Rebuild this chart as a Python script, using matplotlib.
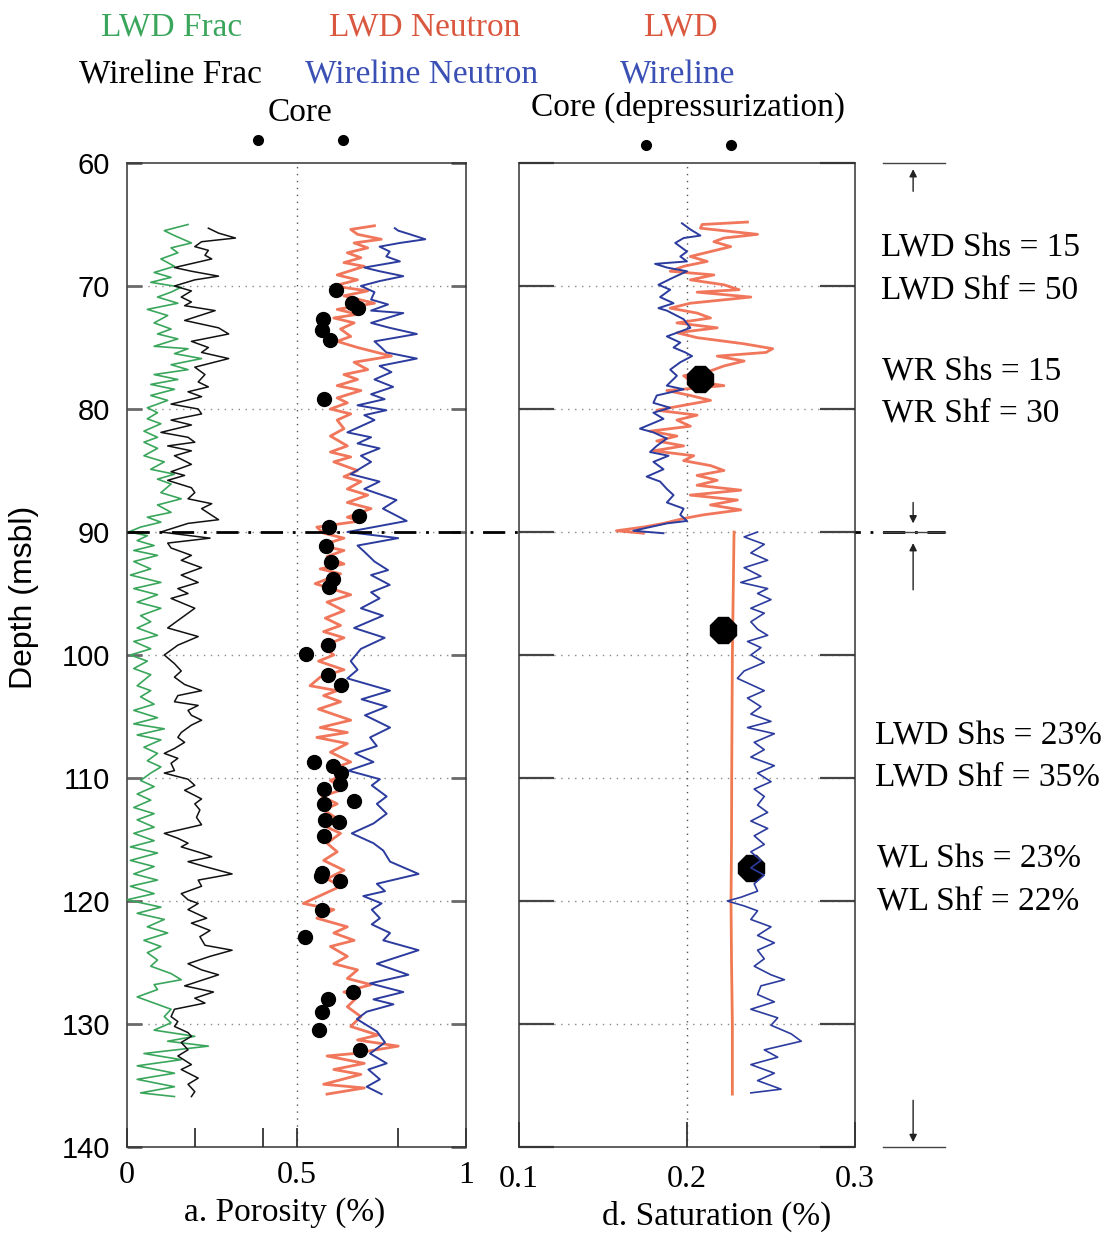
import matplotlib
matplotlib.use("Agg")
import matplotlib.pyplot as plt
import matplotlib.transforms as mtransforms
from matplotlib.lines import Line2D

SERIF = "Liberation Serif"
SANS = "Liberation Sans"

# ---------------- DATA ----------------
# a. Porosity panel
lwd_frac_depth = [65.0, 65.5, 65.9, 66.5, 66.9, 67.3, 67.8, 68.4, 68.9, 69.3, 69.7, 70.1, 70.5, 70.9, 71.4, 71.9, 72.4, 73.0, 73.5, 73.9,
                  74.3, 74.9, 75.1, 75.5, 75.9, 76.4, 76.8, 77.2, 77.6, 78.0, 78.4, 78.9, 79.3, 79.9, 80.3, 80.8, 81.2, 81.8, 82.3, 82.7,
                  83.2, 83.8, 84.3, 84.9, 85.3, 85.7, 86.1, 86.8, 87.3, 87.8, 88.4, 88.8, 89.2, 89.6, 90.0, 90.3, 90.7, 91.1, 91.5, 91.9,
                  92.4, 93.0, 93.5, 94.1, 94.6, 95.1, 95.7, 96.2, 96.8, 97.3, 97.8, 98.4, 98.9, 99.5, 100.0, 100.5, 101.1, 101.6, 102.5, 102.9,
                  103.4, 104.0, 104.5, 105.1, 105.6, 106.0, 106.5, 106.9, 107.5, 108.0, 108.6, 109.1, 109.6, 110.2, 110.7, 111.3, 111.8, 112.4, 112.9, 113.4,
                  114.0, 114.5, 115.1, 115.6, 116.1, 116.7, 117.2, 117.8, 118.3, 118.8, 119.4, 119.9, 120.5, 121.0, 121.5, 122.1, 122.6, 123.2, 123.7, 124.2,
                  124.8, 125.3, 125.9, 126.4, 126.8, 127.2, 127.8, 128.3, 128.8, 129.4, 129.9, 130.5, 131.0, 131.4, 131.8, 132.4, 132.9, 133.4, 134.0, 134.5,
                  135.1, 135.6, 135.9]
lwd_frac = [0.18, 0.11, 0.14, 0.19, 0.13, 0.15, 0.10, 0.14, 0.08, 0.13, 0.07, 0.16, 0.13, 0.09, 0.15, 0.06, 0.12, 0.08, 0.13, 0.09,
            0.15, 0.08, 0.18, 0.14, 0.22, 0.13, 0.18, 0.08, 0.15, 0.07, 0.14, 0.07, 0.12, 0.06, 0.09, 0.06, 0.10, 0.05, 0.09, 0.05,
            0.09, 0.05, 0.11, 0.07, 0.14, 0.09, 0.13, 0.10, 0.16, 0.09, 0.13, 0.06, 0.10, 0.04, 0.005, 0.06, 0.03, 0.08, 0.02, 0.09,
            0.02, 0.07, 0.01, 0.10, 0.02, 0.09, 0.03, 0.10, 0.04, 0.07, 0.03, 0.09, 0.02, 0.07, 0.01, 0.06, 0.02, 0.07, 0.03, 0.07,
            0.04, 0.08, 0.02, 0.09, 0.02, 0.11, 0.03, 0.10, 0.05, 0.09, 0.06, 0.10, 0.07, 0.04, 0.08, 0.03, 0.07, 0.02, 0.08, 0.03,
            0.08, 0.02, 0.08, 0.01, 0.09, 0.01, 0.08, 0.02, 0.09, 0.01, 0.08, 0.00, 0.10, 0.03, 0.11, 0.06, 0.12, 0.05, 0.10, 0.06,
            0.09, 0.07, 0.13, 0.16, 0.08, 0.09, 0.03, 0.08, 0.13, 0.11, 0.13, 0.08, 0.20, 0.12, 0.24, 0.05, 0.16, 0.03, 0.14, 0.03,
            0.14, 0.04, 0.14]

wl_frac_depth = [65.3, 65.7, 66.1, 66.4, 66.8, 67.1, 67.5, 67.8, 68.5, 68.8, 69.2, 69.5, 70.0, 70.4, 70.9, 71.3, 71.6, 72.0, 72.8, 73.4,
                 73.9, 74.5, 75.0, 75.4, 75.9, 76.6, 77.2, 77.8, 78.2, 78.6, 79.0, 79.6, 80.0, 80.4, 80.9, 81.3, 81.9, 82.3, 82.7, 83.0,
                 83.4, 83.8, 84.5, 85.1, 85.4, 85.8, 86.4, 86.8, 87.3, 87.7, 88.1, 89.0, 89.3, 90.0, 90.5, 90.9, 91.3, 91.9, 92.3, 92.9,
                 93.5, 94.1, 94.6, 95.0, 95.4, 96.2, 96.8, 97.8, 98.5, 99.2, 100.0, 100.7, 101.3, 101.8, 102.4, 102.9, 103.3, 103.8, 104.1, 104.5,
                 104.9, 105.3, 105.7, 106.3, 106.7, 107.1, 107.6, 108.0, 108.4, 108.8, 109.4, 109.6, 110.1, 110.6, 111.0, 111.7, 112.1, 112.6, 113.2, 113.8,
                 114.5, 114.9, 115.3, 115.6, 116.1, 116.4, 116.8, 117.2, 117.8, 118.3, 118.8, 119.4, 119.9, 120.2, 120.7, 121.4, 121.8, 122.4, 122.9, 123.6,
                 124.0, 124.5, 125.1, 125.6, 126.0, 126.5, 126.9, 127.4, 127.9, 128.3, 128.8, 129.4, 129.8, 130.2, 130.7, 131.0, 131.5, 132.1, 132.6, 133.3,
                 133.7, 134.4, 134.9, 135.5, 135.9]
wl_frac = [0.24, 0.27, 0.32, 0.22, 0.20, 0.24, 0.23, 0.25, 0.14, 0.19, 0.27, 0.20, 0.14, 0.19, 0.16, 0.19, 0.17, 0.26, 0.17, 0.27,
           0.30, 0.19, 0.24, 0.22, 0.30, 0.20, 0.23, 0.21, 0.24, 0.18, 0.22, 0.13, 0.21, 0.22, 0.13, 0.19, 0.10, 0.18, 0.20, 0.12,
           0.19, 0.14, 0.19, 0.13, 0.17, 0.12, 0.19, 0.20, 0.18, 0.25, 0.22, 0.27, 0.18, 0.10, 0.245, 0.12, 0.13, 0.19, 0.16, 0.22,
           0.16, 0.21, 0.15, 0.18, 0.13, 0.20, 0.17, 0.12, 0.21, 0.15, 0.11, 0.14, 0.16, 0.14, 0.17, 0.22, 0.15, 0.14, 0.21, 0.18,
           0.19, 0.22, 0.19, 0.16, 0.15, 0.17, 0.14, 0.11, 0.15, 0.13, 0.14, 0.11, 0.18, 0.20, 0.17, 0.22, 0.20, 0.215, 0.205, 0.22,
           0.11, 0.15, 0.18, 0.16, 0.22, 0.25, 0.18, 0.23, 0.31, 0.21, 0.22, 0.16, 0.18, 0.21, 0.18, 0.235, 0.19, 0.245, 0.215, 0.23,
           0.31, 0.245, 0.18, 0.22, 0.27, 0.215, 0.17, 0.255, 0.20, 0.23, 0.14, 0.13, 0.15, 0.14, 0.18, 0.19, 0.16, 0.18, 0.15, 0.19,
           0.16, 0.21, 0.18, 0.20, 0.19]

lwd_neutron_depth = [65.1, 65.4, 65.8, 66.2, 66.5, 66.9, 67.3, 67.7, 68.1, 68.4, 69.1, 69.5, 70.0, 70.4, 70.8, 71.4, 71.9, 72.3, 72.6, 73.0,
                     73.5, 74.1, 74.5, 75.0, 75.7, 76.2, 76.8, 77.2, 77.6, 78.1, 78.5, 79.1, 79.5, 80.0, 80.4, 80.9, 81.6, 82.2, 83.0, 83.5,
                     83.9, 84.3, 85.0, 85.5, 85.9, 86.5, 87.0, 87.6, 88.1, 88.8, 89.1, 89.6, 90.1, 90.5, 91.1, 91.5, 92.0, 92.6, 93.0, 93.4,
                     94.2, 95.1, 95.7, 96.4, 97.0, 97.6, 98.1, 98.6, 99.3, 100.0, 100.5, 101.2, 101.8, 102.5, 102.9, 103.3, 103.8, 104.4, 105.3, 105.9,
                     106.3, 106.7, 107.2, 107.9, 108.7, 109.2, 109.6, 110.2, 110.9, 111.5, 112.1, 112.6, 113.3, 114.0, 114.5, 115.3, 116.0, 116.7, 117.5, 118.2,
                     118.8, 120.2, 120.7, 121.4, 122.1, 122.6, 123.2, 123.7, 124.5, 125.1, 125.6, 126.3, 126.8, 127.4, 127.8, 128.6, 129.4, 130.2, 130.9, 131.3,
                     131.8, 132.4, 132.6, 133.2, 133.7, 134.1, 134.9, 135.2, 135.7]
lwd_neutron = [0.73, 0.66, 0.68, 0.75, 0.67, 0.71, 0.65, 0.69, 0.64, 0.70, 0.62, 0.68, 0.61, 0.71, 0.64, 0.73, 0.62, 0.68, 0.61, 0.67,
               0.63, 0.66, 0.62, 0.68, 0.78, 0.67, 0.71, 0.64, 0.68, 0.62, 0.69, 0.62, 0.65, 0.60, 0.66, 0.62, 0.64, 0.60, 0.65, 0.60,
               0.66, 0.61, 0.68, 0.64, 0.69, 0.65, 0.71, 0.65, 0.72, 0.65, 0.69, 0.56, 0.58, 0.64, 0.57, 0.64, 0.59, 0.64, 0.57, 0.63,
               0.555, 0.66, 0.59, 0.64, 0.585, 0.63, 0.58, 0.64, 0.575, 0.61, 0.565, 0.64, 0.57, 0.54, 0.62, 0.58, 0.63, 0.565, 0.66, 0.57,
               0.65, 0.56, 0.65, 0.60, 0.66, 0.61, 0.65, 0.60, 0.64, 0.575, 0.62, 0.58, 0.62, 0.59, 0.63, 0.59, 0.62, 0.58, 0.64, 0.59,
               0.63, 0.52, 0.61, 0.56, 0.65, 0.61, 0.67, 0.60, 0.65, 0.61, 0.68, 0.65, 0.72, 0.64, 0.68, 0.65, 0.69, 0.66, 0.74, 0.68,
               0.80, 0.67, 0.59, 0.70, 0.61, 0.69, 0.58, 0.70, 0.59]

wl_neutron_depth = [65.3, 65.5, 65.8, 66.2, 66.5, 66.8, 67.2, 67.6, 68.0, 68.5, 68.8, 69.2, 69.6, 70.0, 70.5, 71.1, 71.5, 72.0, 72.2, 73.0,
                    73.4, 73.9, 74.5, 75.0, 75.4, 75.9, 76.5, 77.0, 77.6, 78.2, 78.8, 79.2, 79.7, 80.1, 80.5, 80.9, 81.9, 82.3, 82.8, 83.2,
                    83.8, 84.3, 85.3, 85.9, 86.5, 87.4, 88.1, 89.1, 90.0, 90.5, 91.1, 91.6, 92.4, 93.1, 93.5, 94.3, 94.9, 95.4, 96.2, 96.8,
                    97.8, 98.6, 99.5, 100.5, 101.2, 101.9, 102.9, 103.6, 104.2, 104.9, 105.9, 106.7, 107.4, 108.0, 108.7, 109.4, 110.1, 110.6, 111.5, 112.1,
                    112.9, 113.7, 114.5, 115.3, 115.9, 116.8, 117.8, 118.6, 119.2, 119.6, 120.2, 120.7, 121.4, 121.9, 122.6, 123.2, 124.0, 125.1, 126.0, 126.7,
                    127.4, 128.0, 128.4, 129.0, 129.6, 130.6, 131.5, 132.4, 133.2, 133.7, 134.5, 135.1, 135.7]
wl_neutron = [0.79, 0.80, 0.835, 0.88, 0.805, 0.745, 0.775, 0.765, 0.805, 0.70, 0.745, 0.815, 0.745, 0.69, 0.73, 0.72, 0.77, 0.72, 0.815, 0.72,
              0.775, 0.855, 0.73, 0.75, 0.765, 0.855, 0.745, 0.78, 0.73, 0.785, 0.72, 0.76, 0.68, 0.765, 0.70, 0.73, 0.65, 0.72, 0.68, 0.745,
              0.69, 0.72, 0.66, 0.745, 0.70, 0.795, 0.755, 0.825, 0.65, 0.80, 0.68, 0.70, 0.73, 0.77, 0.72, 0.775, 0.72, 0.745, 0.69, 0.755,
              0.67, 0.76, 0.69, 0.66, 0.68, 0.65, 0.776, 0.692, 0.766, 0.702, 0.776, 0.717, 0.737, 0.673, 0.727, 0.653, 0.746, 0.722, 0.766, 0.737,
              0.766, 0.727, 0.663, 0.727, 0.756, 0.776, 0.86, 0.737, 0.761, 0.697, 0.751, 0.722, 0.746, 0.722, 0.776, 0.756, 0.86, 0.737, 0.83, 0.717,
              0.815, 0.727, 0.786, 0.707, 0.678, 0.737, 0.761, 0.717, 0.766, 0.712, 0.746, 0.707, 0.751]

core_depth = [70.3, 71.4, 71.8, 72.7, 73.6, 74.4, 79.2, 88.7, 89.6, 91.1, 92.4, 93.8, 94.5, 99.2, 99.9, 101.6, 102.4, 108.7, 109.0, 109.6,
              110.5, 110.9, 111.9, 112.1, 113.4, 113.6, 114.7, 117.7, 118.0, 118.4, 120.7, 122.9, 127.4, 128.0, 129.0, 130.5, 132.1]
core_porosity = [0.617, 0.663, 0.681, 0.579, 0.574, 0.599, 0.581, 0.685, 0.597, 0.587, 0.601, 0.609, 0.597, 0.594, 0.528, 0.594, 0.630, 0.552, 0.607, 0.630,
                 0.627, 0.581, 0.671, 0.581, 0.584, 0.624, 0.581, 0.574, 0.571, 0.627, 0.574, 0.525, 0.666, 0.594, 0.574, 0.565, 0.686]

# d. Saturation panel
sat_lwd_upper_depth = [64.8, 65.0, 65.3, 65.8, 66.1, 66.4, 66.8, 67.2, 67.6, 68.0, 68.4, 68.8, 69.1, 69.5, 69.9, 70.3, 70.5, 70.9, 71.4, 71.8,
                       72.2, 72.6, 73.0, 73.4, 73.8, 74.2, 74.7, 75.1, 75.4, 75.7, 76.1, 76.5, 76.9, 77.3, 77.7, 78.1, 78.5, 78.9, 79.3, 79.7,
                       80.1, 80.5, 80.9, 81.4, 81.8, 82.2, 82.6, 83.0, 83.4, 83.8, 84.2, 84.6, 85.0, 85.4, 85.8, 86.2, 86.6, 87.0, 87.4, 87.8,
                       88.2, 88.6, 88.9, 89.3, 89.6, 89.9, 90.1]
sat_lwd_upper = [0.236, 0.209, 0.208, 0.242, 0.222, 0.216, 0.226, 0.214, 0.202, 0.212, 0.198, 0.190, 0.216, 0.202, 0.222, 0.231, 0.206, 0.238, 0.202, 0.190,
                 0.206, 0.214, 0.194, 0.218, 0.194, 0.206, 0.234, 0.251, 0.247, 0.218, 0.234, 0.222, 0.214, 0.198, 0.202, 0.222, 0.188, 0.202, 0.214, 0.198,
                 0.182, 0.206, 0.194, 0.202, 0.178, 0.194, 0.182, 0.198, 0.180, 0.204, 0.198, 0.214, 0.222, 0.206, 0.218, 0.206, 0.232, 0.202, 0.230, 0.214,
                 0.232, 0.210, 0.198, 0.186, 0.174, 0.158, 0.174]

sat_wl_upper_depth = [64.9, 65.4, 65.9, 66.1, 66.5, 67.2, 67.6, 68.0, 68.2, 68.5, 68.8, 69.3, 69.9, 70.3, 70.9, 71.4, 71.8, 72.0, 72.7, 73.4,
                      74.1, 74.6, 75.0, 75.4, 75.7, 76.2, 76.8, 77.3, 78.1, 78.4, 78.9, 79.5, 79.9, 80.3, 80.8, 81.6, 81.9, 82.4, 83.0, 83.5,
                      83.8, 84.3, 84.9, 85.5, 85.9, 86.5, 87.0, 87.6, 88.1, 88.6, 89.1, 89.3, 89.6, 89.9, 90.1]
sat_wl_upper = [0.197, 0.202, 0.208, 0.198, 0.193, 0.200, 0.196, 0.200, 0.181, 0.188, 0.200, 0.192, 0.183, 0.190, 0.184, 0.192, 0.183, 0.188, 0.198, 0.202,
                0.188, 0.196, 0.192, 0.199, 0.203, 0.196, 0.190, 0.194, 0.188, 0.198, 0.182, 0.180, 0.190, 0.180, 0.186, 0.172, 0.180, 0.188, 0.182, 0.178,
                0.189, 0.180, 0.186, 0.176, 0.184, 0.188, 0.192, 0.188, 0.198, 0.196, 0.200, 0.188, 0.178, 0.168, 0.186]

sat_lwd_lower_depth = [90.0, 95.0, 100.0, 105.0, 110.0, 115.0, 120.0, 125.0, 130.0, 135.7]
sat_lwd_lower = [0.228, 0.2275, 0.227, 0.2268, 0.2266, 0.2265, 0.2262, 0.2265, 0.227, 0.227]

sat_wl_lower_depth = [90.0, 90.4, 91.0, 91.7, 92.3, 92.9, 93.6, 94.1, 94.6, 95.0, 95.5, 96.2, 96.6, 97.3, 97.9, 98.4, 98.9, 99.4, 100.0, 100.6,
                      101.3, 101.9, 102.4, 102.9, 103.5, 104.2, 104.8, 105.4, 105.9, 106.4, 107.1, 107.7, 108.3, 109.0, 109.6, 110.3, 110.9, 111.5, 112.2, 112.8,
                      113.5, 114.1, 114.7, 115.4, 116.0, 116.7, 117.3, 117.9, 118.6, 119.2, 119.7, 120.0, 120.4, 120.8, 121.5, 122.1, 122.8, 123.4, 124.0, 124.7,
                      125.3, 126.0, 126.4, 126.9, 127.6, 128.2, 128.8, 129.5, 130.1, 130.8, 131.4, 132.1, 132.7, 133.3, 134.0, 134.6, 135.3, 135.6]
sat_wl_lower = [0.242, 0.234, 0.246, 0.238, 0.248, 0.234, 0.244, 0.232, 0.248, 0.242, 0.250, 0.238, 0.246, 0.238, 0.242, 0.248, 0.236, 0.244, 0.238, 0.246,
                0.234, 0.230, 0.238, 0.246, 0.236, 0.244, 0.238, 0.250, 0.236, 0.252, 0.240, 0.246, 0.238, 0.252, 0.242, 0.250, 0.240, 0.246, 0.242, 0.248,
                0.238, 0.248, 0.240, 0.246, 0.238, 0.244, 0.238, 0.246, 0.240, 0.242, 0.232, 0.224, 0.234, 0.242, 0.238, 0.250, 0.242, 0.252, 0.242, 0.246,
                0.240, 0.250, 0.258, 0.244, 0.242, 0.252, 0.238, 0.254, 0.250, 0.262, 0.268, 0.246, 0.254, 0.238, 0.252, 0.242, 0.256, 0.238]

core_sat_depth = [77.6, 98.0, 117.3]
core_sat = [0.2077, 0.2214, 0.2380]

depth_ticks = [60, 70, 80, 90, 100, 110, 120, 130, 140]
por_ticks = [0, 0.2, 0.4, 0.5, 0.8, 1]
por_ticklabels = ["0", "", "", "0.5", "", "1"]
sat_ticks = [0.1, 0.2, 0.3]
sat_ticklabels = ["0.1", "0.2", "0.3"]
upper_notes = ["LWD Shs = 15", "LWD Shf = 50", "WR Shs = 15", "WR Shf = 30"]
lower_notes = ["LWD Shs = 23%", "LWD Shf = 35%", "WL Shs = 23%", "WL Shf = 22%"]

# ---------------- STYLE ----------------
GREEN = "#3aa65c"
RED = "#f0684a"
BLUE = "#2c3c9e"
BLACK = "#111111"
GRID = "#8a8a8a"
TICK = "#6a6a6a"

fig = plt.figure(figsize=(11.07, 12.36), dpi=100)
fig.patch.set_facecolor("white")
ax1 = fig.add_axes([127 / 1107, 1 - 1147 / 1236, 339 / 1107, 984 / 1236])
ax2 = fig.add_axes([519 / 1107, 1 - 1147 / 1236, 336 / 1107, 984 / 1236])

for ax in (ax1, ax2):
    ax.set_ylim(140, 60)
    ax.set_yticks(depth_ticks)
    for s in ax.spines.values():
        s.set_color("#333333")
        s.set_linewidth(1.1)
    for d in depth_ticks[1:-1]:
        ax.axhline(d, color=GRID, lw=1.0, ls=(0, (1, 4)), zorder=1)

# --- panel a
ax1.set_xlim(0, 1)
ax1.axvline(0.5, color="#555555", lw=1.0, ls=(0, (1, 4)), zorder=1)
ax1.plot(lwd_frac, lwd_frac_depth, color=GREEN, lw=1.2, zorder=3)
ax1.plot(wl_frac, wl_frac_depth, color=BLACK, lw=1.1, zorder=3)
ax1.plot(lwd_neutron, lwd_neutron_depth, color=RED, lw=2.0, alpha=0.9, zorder=3)
ax1.plot(wl_neutron, wl_neutron_depth, color=BLUE, lw=1.4, zorder=3)
ax1.plot(core_porosity, core_depth, ls="none", marker="o", ms=10, color="black", zorder=5)

ax1.set_xticks(por_ticks)
ax1.set_xticklabels(por_ticklabels, fontfamily=SERIF, fontsize=23)
ax1.tick_params(axis="x", direction="in", length=14, width=1.3, color="#333333", pad=10)
ax1.tick_params(axis="y", direction="in", length=11, width=2, color=TICK, left=True, right=True, pad=12)
ax1.set_yticklabels([str(t) for t in depth_ticks], fontfamily=SANS, fontsize=21)

# --- panel d
ax2.set_xlim(0.1, 0.3)
ax2.axvline(0.2, color="#555555", lw=1.0, ls=(0, (1, 4)), zorder=1)
ax2.plot(sat_lwd_upper, sat_lwd_upper_depth, color=RED, lw=2.0, alpha=0.9, zorder=3)
ax2.plot(sat_wl_upper, sat_wl_upper_depth, color=BLUE, lw=1.4, zorder=3)
ax2.plot(sat_lwd_lower, sat_lwd_lower_depth, color="#f07a50", lw=2.0, zorder=3)
ax2.plot(core_sat, core_sat_depth, ls="none", marker="8", ms=20, color="black", zorder=5)
ax2.plot(sat_wl_lower, sat_wl_lower_depth, color=BLUE, lw=1.2, zorder=6)
ax2.set_xticks(sat_ticks)
ax2.set_xticklabels(sat_ticklabels, fontfamily=SERIF, fontsize=23)
ax2.tick_params(axis="x", direction="in", length=18, width=1.3, color="#333333", pad=13)
ax2.tick_params(axis="y", direction="in", length=25, width=1.6, color="#444444", left=True, right=True, labelleft=False)

# --- axis labels
fig.text(285 / 1107, 1 - 1213 / 1236, "a. Porosity (%)", ha="center", va="center", fontfamily=SERIF, fontsize=24)
fig.text(717 / 1107, 1 - 1216 / 1236, "d. Saturation (%)", ha="center", va="center", fontfamily=SERIF, fontsize=24)
fig.text(0.022, 0.517, "Depth (msbl)", rotation=90, ha="center", va="center", fontfamily=SANS, fontsize=23)

# --- dash-dot boundary at 90 m across both panels
trans1 = mtransforms.blended_transform_factory(ax1.transAxes, ax1.transData)
ax1.add_line(Line2D([0, 2.413], [90, 90], transform=trans1, color="black", lw=2.0,
                    dashes=(8, 3.5, 1, 3.5), clip_on=False, zorder=6))

# --- right side brackets
trans2 = mtransforms.blended_transform_factory(ax2.transAxes, ax2.transData)
for d in (60, 90, 140):
    ax2.add_line(Line2D([1.083, 1.268], [d, d], transform=trans2, color="#444444", lw=1.0, clip_on=False))
arrows = [(62.3, 60.5), (87.6, 89.3), (94.7, 90.9), (136.2, 139.6)]
for start, end in arrows:
    ax2.annotate("", xy=(1.173, end), xytext=(1.173, start), xycoords=trans2, textcoords=trans2,
                 arrowprops=dict(arrowstyle="-|>", color="#222222", lw=1.0, mutation_scale=11,
                                 shrinkA=0, shrinkB=0), annotation_clip=False)

# --- annotations
y_up = [0.7994, 0.7654, 0.699, 0.666]
x_up = [0.796, 0.796, 0.797, 0.797]
for t, x, y in zip(upper_notes, x_up, y_up):
    fig.text(x, y, t, ha="left", va="center", fontfamily=SERIF, fontsize=24)
y_lo = [0.4045, 0.3714, 0.305, 0.271]
x_lo = [0.790, 0.790, 0.792, 0.792]
for t, x, y in zip(lower_notes, x_lo, y_lo):
    fig.text(x, y, t, ha="left", va="center", fontfamily=SERIF, fontsize=24)

# --- top legend texts
fig.text(0.1554, 0.978, "LWD Frac", color=GREEN, ha="center", va="center", fontfamily=SERIF, fontsize=24)
fig.text(0.1536, 0.939, "Wireline Frac", color="black", ha="center", va="center", fontfamily=SERIF, fontsize=24)
fig.text(0.384, 0.978, "LWD Neutron", color="#d9583f", ha="center", va="center", fontfamily=SERIF, fontsize=24)
fig.text(0.381, 0.939, "Wireline Neutron", color="#3b50b4", ha="center", va="center", fontfamily=SERIF, fontsize=24)
fig.text(0.271, 0.909, "Core", color="black", ha="center", va="center", fontfamily=SERIF, fontsize=24)
fig.text(0.615, 0.978, "LWD", color="#d9583f", ha="center", va="center", fontfamily=SERIF, fontsize=24)
fig.text(0.6125, 0.939, "Wireline", color="#3b50b4", ha="center", va="center", fontfamily=SERIF, fontsize=24)
fig.text(0.6215, 0.913, "Core (depressurization)", color="black", ha="center", va="center", fontfamily=SERIF, fontsize=24)
for x, y in [(0.233, 0.887), (0.310, 0.887), (0.5836, 0.883), (0.660, 0.883)]:
    fig.add_artist(Line2D([x], [y], transform=fig.transFigure, marker="o", ms=7, color="black", ls="none"))

fig.savefig("out.png", dpi=100, facecolor="white")
